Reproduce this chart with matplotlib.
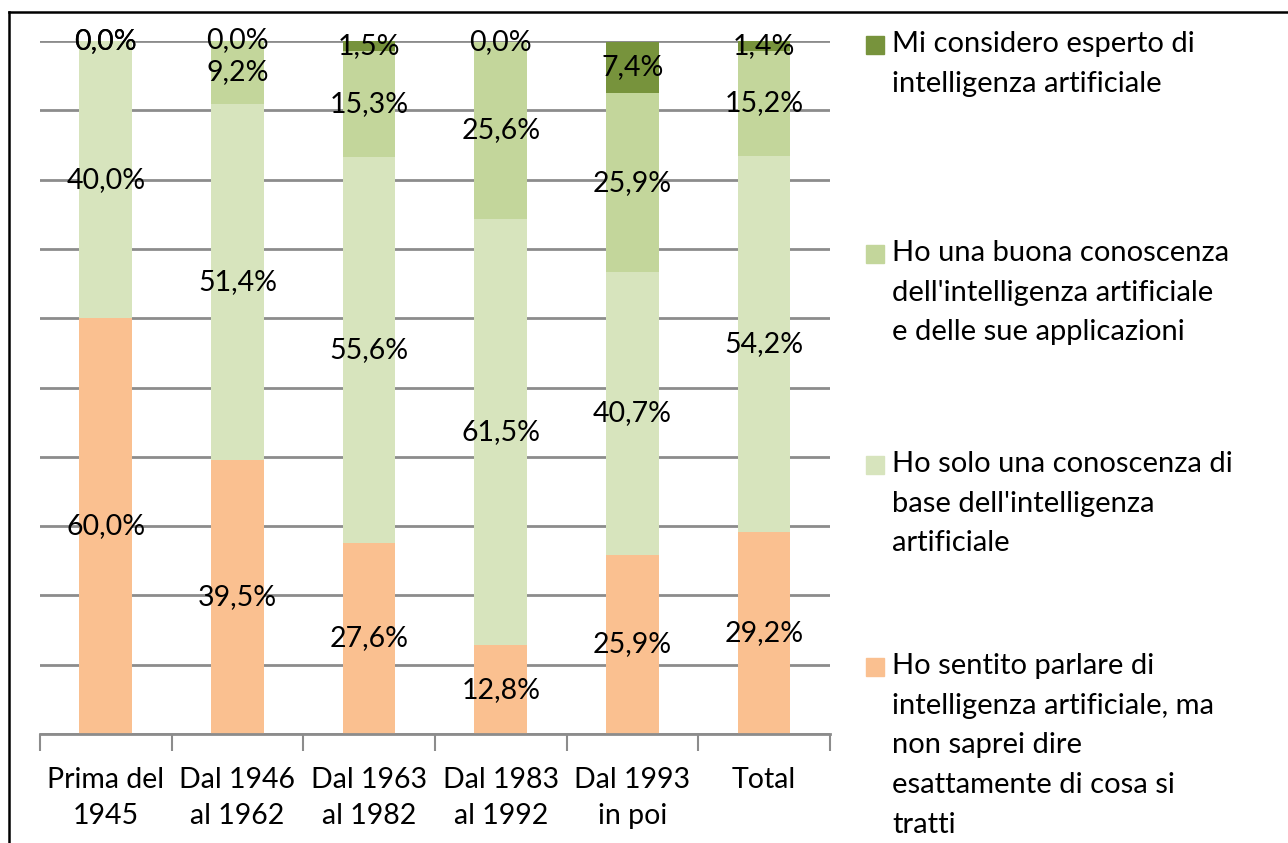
import numpy as np
import matplotlib.pyplot as plt
from matplotlib.patches import Rectangle
from matplotlib.lines import Line2D

plt.rcParams['font.family'] = ['Lato', 'DejaVu Sans']

categories = ["Prima del\n1945", "Dal 1946\nal 1962", "Dal 1963\nal 1982",
              "Dal 1983\nal 1992", "Dal 1993\nin poi", "Total"]
sentito = [60.0, 39.5, 27.6, 12.8, 25.9, 29.2]
base = [40.0, 51.4, 55.6, 61.5, 40.7, 54.2]
buona = [0.0, 9.2, 15.3, 25.6, 25.9, 15.2]
esperto = [0.0, 0.0, 1.5, 0.0, 7.4, 1.4]

series = [sentito, base, buona, esperto]
colors = ["#FAC090", "#D7E4BD", "#C3D69B", "#77933C"]
legend_labels = [
    "Ho sentito parlare di\nintelligenza artificiale, ma\nnon saprei dire\nesattamente di cosa si\ntratti",
    "Ho solo una conoscenza di\nbase dell'intelligenza\nartificiale",
    "Ho una buona conoscenza\ndell'intelligenza artificiale\ne delle sue applicazioni",
    "Mi considero esperto di\nintelligenza artificiale",
]

W, H = 1288, 843
fig = plt.figure(figsize=(W / 100, H / 100), dpi=100)
ax = fig.add_axes([40 / W, 1 - 734 / H, 790 / W, 693 / H])

x = np.arange(len(categories))
bottom = np.zeros(len(categories))
for vals, col in zip(series, colors):
    vals = np.array(vals)
    ax.bar(x, vals, width=0.4, bottom=bottom, color=col, zorder=2)
    for xi, b, v in zip(x, bottom, vals):
        ax.text(xi, b + v / 2, f"{v:.1f}%".replace(".", ","), ha="center",
                va="center", fontsize=20.5, color="black", zorder=3)
    bottom += vals

ax.set_xlim(-0.5, len(categories) - 0.5)
ax.set_ylim(0, 100)
ax.set_yticks(np.arange(0, 101, 10))
ax.yaxis.grid(True, color="#8C8C8C", linewidth=2, zorder=0)
ax.tick_params(axis="y", left=False, labelleft=False)
ax.set_xticks(x)
ax.set_xticklabels(categories, fontsize=20.5, linespacing=1.45)
ax.set_xticks(np.arange(-0.5, len(categories), 1), minor=True)
ax.tick_params(axis="x", which="major", length=0, pad=24)
ax.tick_params(axis="x", which="minor", length=12, width=1.5, color="#8C8C8C")
for s in ["left", "right", "top"]:
    ax.spines[s].set_visible(False)
ax.spines["bottom"].set_color("#8C8C8C")
ax.spines["bottom"].set_linewidth(2)

# legend drawn by hand, entries spaced evenly as in the source
leg_tops = [31, 240, 451, 653]
for i, yt in enumerate(leg_tops):
    k = len(series) - 1 - i
    fig.patches.append(Rectangle((866 / W, 1 - (yt + 23) / H), 18 / W, 18 / H,
                                 transform=fig.transFigure, color=colors[k]))
    fig.text(892 / W, 1 - yt / H, legend_labels[k], fontsize=21, va="top",
             ha="left", linespacing=1.65)

# outer frame (cut by the image edge)
fig.add_artist(Line2D([9 / W, 9 / W], [0, 1 - 12 / H], color="black", lw=1.8))
fig.add_artist(Line2D([9 / W, 1], [1 - 12 / H, 1 - 12 / H], color="black", lw=1.8))

fig.savefig("out.png", dpi=100)
